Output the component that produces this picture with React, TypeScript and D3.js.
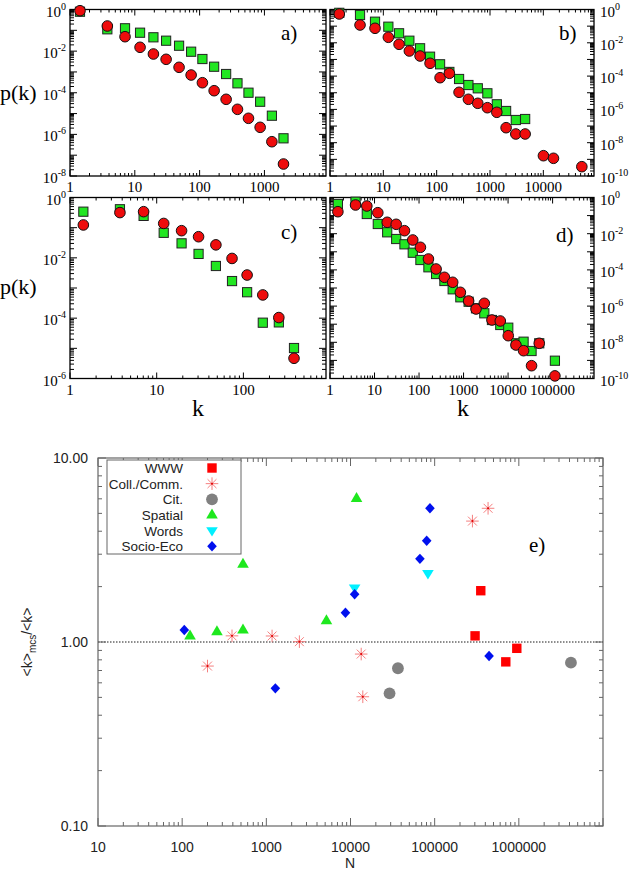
import React from 'react';
import * as d3 from 'd3';

// ---------- Data (top panels: log10 k and log10 p(k)) ----------
const logKA = [0.154, 0.576, 0.849, 1.081, 1.287, 1.483, 1.683, 1.869, 2.043, 2.224, 2.409, 2.584, 2.754, 2.934, 3.115, 3.294];
const logPA_sq = [-0.106, -0.951, -0.903, -1.115, -1.336, -1.499, -1.740, -2.028, -2.379, -2.749, -3.100, -3.546, -3.998, -4.431, -5.103, -6.189];
const logPA_ci = [-0.058, -0.793, -1.307, -1.816, -2.138, -2.393, -2.778, -3.148, -3.518, -3.902, -4.315, -4.796, -5.228, -5.661, -6.353, -7.424];

const logKB = [0.174, 0.563, 0.844, 1.094, 1.295, 1.488, 1.689, 1.876, 2.064, 2.238, 2.420, 2.595, 2.771, 2.951, 3.128, 3.302, 3.484, 3.659, 4.002, 4.190, 4.722];
const logPB_sq = [-0.20, -0.33, -0.733, -1.033, -1.429, -1.874, -2.330, -2.835, -3.291, -3.75, -4.174, -4.535, -4.733, -5.033, -5.694, -6.096, -6.637, -6.577];
const logPB_ci = [-0.270, -0.931, -1.129, -1.670, -2.090, -2.492, -2.793, -3.231, -4.096, -3.832, -4.973, -5.393, -5.634, -5.898, -6.174, -7.099, -7.477, -7.477, -8.781, -8.937, -9.441];

const logKC = [0.154, 0.576, 0.849, 1.081, 1.287, 1.483, 1.683, 1.869, 2.043, 2.224, 2.409, 2.584];
const logPC_sq = [-0.47, -0.39, -0.61, -1.17, -1.52, -1.87, -2.27, -2.77, -3.14, -4.15, -4.14, -4.99];
const logPC_ci = [-0.91, -0.50, -0.47, -0.86, -1.10, -1.30, -1.57, -2.02, -2.57, -3.23, -3.98, -5.33];

const logKD = [0.177, 0.574, 0.827, 1.074, 1.285, 1.487, 1.673, 1.859, 2.031, 2.211, 2.383, 2.570, 2.756, 2.928, 3.114, 3.280, 3.466, 3.638, 3.825, 4.004, 4.177, 4.348, 4.527, 4.700, 5.052];
const logPD_sq = [-0.359, -0.232, -0.912, -1.464, -1.923, -2.293, -2.586, -3.050, -3.453, -3.856, -4.227, -4.613, -5.072, -5.514, -5.757, -6.122, -6.398, -6.768, -7.044, -7.193, -8.055, -7.967, -8.481, -8.055, -9.017];
const logPD_ci = [-0.785, -0.414, -0.470, -0.840, -1.370, -1.481, -1.834, -2.348, -2.751, -3.398, -3.950, -4.409, -4.685, -5.238, -5.718, -6.160, -5.845, -6.768, -6.823, -7.635, -8.149, -8.464, -9.293, -8.055, -9.856];

// ---------- Data (panel e) ----------
const wwwN = [302000, 353000, 700000, 946000];
const wwwR = [1.08, 1.90, 0.78, 0.924];
const collN = [200, 391, 1170, 2470, 13400, 14000, 281000, 431000];
const collR = [0.74, 1.08, 1.078, 1.004, 0.86, 0.504, 4.54, 5.33];
const citN = [29100, 36600, 4160000];
const citR = [0.526, 0.72, 0.772];
const spatN = [124, 259, 528, 528, 5180, 11800];
const spatR = [1.078, 1.137, 1.162, 2.65, 1.305, 6.04];
const wordsN = [11200, 83200];
const wordsR = [1.97, 2.36];
const socioN = [106, 1280, 8710, 11200, 66800, 80400, 87900, 443000];
const socioR = [1.162, 0.56, 1.443, 1.816, 2.83, 3.55, 5.33, 0.839];

const legendLabels = ['WWW', 'Coll./Comm.', 'Cit.', 'Spatial', 'Words', 'Socio-Eco'];
const eXTickLabels = ['10', '100', '1000', '10000', '100000', '1000000'];
const eYTickLabels = ['10.00', '1.00', '0.10'];

const GREEN = '#22e622';
const RED = '#ee0c0c';
const SERIF = '"Liberation Serif", "DejaVu Serif", serif';
const SANS = '"Liberation Sans", Arial, sans-serif';

function logTicks(a: number, b: number) {
  const lo = Math.min(a, b), hi = Math.max(a, b);
  const majors: number[] = [], minors: number[] = [];
  for (let e = Math.floor(Math.log10(lo)) - 1; e <= Math.ceil(Math.log10(hi)); e++) {
    for (let j = 1; j < 10; j++) {
      const v = j * Math.pow(10, e);
      if (v >= lo * 0.99999 && v <= hi * 1.00001) (j === 1 ? majors : minors).push(v);
    }
  }
  return { majors, minors };
}

type PanelProps = {
  x0: number; x1: number; y0: number; y1: number;
  xMax: number; yMinExp: number;
  xLabels: number[]; yLabelSide: 'left' | 'right';
  logK: number[]; sq: number[]; ci: number[];
  tag: string;
  tagX: number; tagY: number;
};

function SupLabel({ x, y, exp, anchor }: { x: number; y: number; exp: number; anchor: string }) {
  return (
    <text x={x} y={y} textAnchor={anchor} fontFamily={SERIF} fontSize={15} fill="#000">
      10<tspan dy={-7} fontSize={10}>{String(exp)}</tspan>
    </text>
  );
}

function Panel(p: PanelProps) {
  const xs = d3.scaleLog().domain([1, p.xMax]).range([p.x0, p.x1]);
  const ys = d3.scaleLog().domain([1, Math.pow(10, p.yMinExp)]).range([p.y0, p.y1]);
  const xt = logTicks(1, p.xMax);
  const yt = logTicks(Math.pow(10, p.yMinExp), 1);
  const MJ = 6, MN = 3;
  const els: React.ReactNode[] = [];
  xt.majors.concat(xt.minors).forEach((v, i) => {
    const L = xt.majors.includes(v) ? MJ : MN;
    const x = xs(v);
    els.push(<line key={'xb' + i} x1={x} x2={x} y1={p.y1} y2={p.y1 - L} />);
    els.push(<line key={'xt' + i} x1={x} x2={x} y1={p.y0} y2={p.y0 + L} />);
  });
  yt.majors.concat(yt.minors).forEach((v, i) => {
    const L = yt.majors.includes(v) ? MJ + 1 : MN + 1;
    const y = ys(v);
    els.push(<line key={'yl' + i} x1={p.x0} x2={p.x0 + L} y1={y} y2={y} />);
    els.push(<line key={'yr' + i} x1={p.x1} x2={p.x1 - L} y1={y} y2={y} />);
  });
  const yLabs: React.ReactNode[] = [];
  for (let e = 0; e >= p.yMinExp; e -= 2) {
    const y = ys(Math.pow(10, e)) + 7;
    if (p.yLabelSide === 'left') yLabs.push(<SupLabel key={'yl' + e} x={p.x0 - 4} y={y} exp={e} anchor="end" />);
    else yLabs.push(<SupLabel key={'yr' + e} x={p.x1 + 6} y={y} exp={e} anchor="start" />);
  }
  return (
    <g>
      <g stroke="#000" strokeWidth={1}>{els}</g>
      <rect x={p.x0} y={p.y0} width={p.x1 - p.x0} height={p.y1 - p.y0} fill="none" stroke="#000" strokeWidth={1.3} />
      {p.xLabels.map((v) => (
        <text key={'xl' + v} x={xs(v)} y={p.y1 + 16} textAnchor="middle" fontFamily={SERIF} fontSize={15}>{String(v)}</text>
      ))}
      {yLabs}
      {p.sq.map((lp, i) => {
        const x = xs(Math.pow(10, p.logK[i]));
        const y = ys(Math.pow(10, lp));
        return <rect key={'s' + i} x={x - 4.6} y={y - 4.6} width={9.2} height={9.2} fill={GREEN} stroke="#222" strokeWidth={1} />;
      })}
      {p.ci.map((lp, i) => {
        const x = xs(Math.pow(10, p.logK[i]));
        const y = ys(Math.pow(10, lp));
        return <circle key={'c' + i} cx={x} cy={y} r={5.3} fill={RED} stroke="#111" strokeWidth={1} />;
      })}
      <text x={p.tagX} y={p.tagY} fontFamily={SERIF} fontSize={21}>{p.tag}</text>
    </g>
  );
}

// ---------- Panel e markers ----------
function Marker({ kind, x, y }: { kind: string; x: number; y: number }) {
  if (kind === 'www') return <rect x={x - 4.7} y={y - 4.7} width={9.4} height={9.4} fill="#ff0000" />;
  if (kind === 'coll') {
    const r = 6.3, d = r * Math.SQRT1_2;
    return (
      <g stroke="#f47070" strokeWidth={0.9}>
        <line x1={x - r} x2={x + r} y1={y} y2={y} />
        <line x1={x} x2={x} y1={y - r} y2={y + r} />
        <line x1={x - d} x2={x + d} y1={y - d} y2={y + d} />
        <line x1={x - d} x2={x + d} y1={y + d} y2={y - d} />
        <circle cx={x} cy={y} r={1} fill="#e00000" stroke="none" />
      </g>
    );
  }
  if (kind === 'cit') return <circle cx={x} cy={y} r={5.9} fill="#808080" />;
  if (kind === 'spat') return <path d={`M${x},${y - 6.4} L${x + 5.8},${y + 3.6} L${x - 5.8},${y + 3.6} Z`} fill="#1ee81e" />;
  if (kind === 'words') return <path d={`M${x},${y + 6} L${x + 5.8},${y - 3.4} L${x - 5.8},${y - 3.4} Z`} fill="#00f0ff" />;
  return <path d={`M${x},${y - 5.2} L${x + 4.8},${y} L${x},${y + 5.2} L${x - 4.8},${y} Z`} fill="#0010ee" />;
}

function PanelE() {
  const x0 = 98, x1 = 603, y0 = 458, y1 = 826;
  const xs = d3.scaleLog().domain([10, 1e7]).range([x0, x1]);
  const ys = d3.scaleLog().domain([0.1, 10]).range([y1, y0]);
  const xt = logTicks(10, 1e7);
  const yt = logTicks(0.1, 10);
  const ticks: React.ReactNode[] = [];
  xt.majors.concat(xt.minors).forEach((v, i) => {
    const L = xt.majors.includes(v) ? 8 : 4;
    const x = xs(v);
    ticks.push(<line key={'b' + i} x1={x} x2={x} y1={y1} y2={y1 - L} />);
    ticks.push(<line key={'t' + i} x1={x} x2={x} y1={y0} y2={y0 + L} />);
  });
  yt.majors.concat(yt.minors).forEach((v, i) => {
    const L = yt.majors.includes(v) ? 8 : 4;
    const y = ys(v);
    ticks.push(<line key={'l' + i} x1={x0} x2={x0 + L} y1={y} y2={y} />);
    ticks.push(<line key={'r' + i} x1={x1} x2={x1 - L} y1={y} y2={y} />);
  });
  const series: [string, number[], number[]][] = [
    ['www', wwwN, wwwR], ['coll', collN, collR], ['cit', citN, citR],
    ['spat', spatN, spatR], ['words', wordsN, wordsR], ['socio', socioN, socioR],
  ];
  const yTickVals = [10, 1, 0.1];
  const legY0 = 468, legStep = 15.65;
  return (
    <g>
      <line x1={x0} x2={x1} y1={ys(1)} y2={ys(1)} stroke="#000" strokeWidth={0.9} strokeDasharray="1.5,1.5" />
      <g stroke="#666" strokeWidth={1}>{ticks}</g>
      <rect x={x0} y={y0} width={x1 - x0} height={y1 - y0} fill="none" stroke="#666" strokeWidth={1.2} />
      {eYTickLabels.map((t, i) => (
        <text key={t} x={88} y={ys(yTickVals[i]) + 5} textAnchor="end" fontFamily={SANS} fontSize={14} fill="#222">{t}</text>
      ))}
      {eXTickLabels.map((t, i) => (
        <text key={t} x={xs(Math.pow(10, i + 1))} y={852} textAnchor="middle" fontFamily={SANS} fontSize={14} fill="#222">{t}</text>
      ))}
      <text x={350} y={868} textAnchor="middle" fontFamily={SANS} fontSize={14} fill="#222">N</text>
      <text transform="translate(32,642) rotate(-90)" textAnchor="middle" fontFamily={SANS} fontSize={14} fill="#222">
        &lt;k&gt;<tspan dy={4} fontSize={10}>mcs</tspan><tspan dy={-4}>/&lt;k&gt;</tspan>
      </text>
      {series.map(([kind, N, R]) =>
        N.map((n, i) => <Marker key={kind + i} kind={kind} x={xs(n)} y={ys(R[i])} />)
      )}
      <rect x={107} y={460} width={134} height={94} fill="#fff" stroke="#666" strokeWidth={1} />
      {legendLabels.map((lab, i) => {
        const y = legY0 + i * legStep;
        return (
          <g key={lab}>
            <text x={183} y={y + 5} textAnchor="end" fontFamily={SANS} fontSize={13.5} fill="#222">{lab}</text>
            <Marker kind={series[i][0]} x={212} y={y} />
          </g>
        );
      })}
      <text x={529} y={552} fontFamily={SERIF} fontSize={21}>e)</text>
    </g>
  );
}

export default function App() {
  return (
    <svg width={630} height={870} style={{ position: 'absolute', left: 0, top: 0, background: '#fff' }}>
      <rect x={0} y={0} width={630} height={870} fill="#fff" />
      <Panel x0={70} x1={326} y0={9.5} y1={176} xMax={Math.pow(10, 3.95)} yMinExp={-8}
        xLabels={[1, 10, 100, 1000]} yLabelSide="left" logK={logKA} sq={logPA_sq} ci={logPA_ci}
        tag="a)" tagX={281} tagY={40} />
      <Panel x0={330} x1={594} y0={9.5} y1={176} xMax={Math.pow(10, 4.95)} yMinExp={-10}
        xLabels={[1, 10, 100, 1000, 10000]} yLabelSide="right" logK={logKB} sq={logPB_sq} ci={logPB_ci}
        tag="b)" tagX={559} tagY={40} />
      <Panel x0={70} x1={326} y0={197.5} y1={378.5} xMax={Math.pow(10, 2.953)} yMinExp={-6}
        xLabels={[1, 10, 100]} yLabelSide="left" logK={logKC} sq={logPC_sq} ci={logPC_ci}
        tag="c)" tagX={281} tagY={239} />
      <Panel x0={330} x1={594} y0={197.5} y1={378.5} xMax={Math.pow(10, 5.93)} yMinExp={-10}
        xLabels={[1, 10, 100, 1000, 10000, 100000]} yLabelSide="right" logK={logKD} sq={logPD_sq} ci={logPD_ci}
        tag="d)" tagX={556} tagY={242} />
      <text x={0} y={100} fontFamily={SERIF} fontSize={22}>p(k)</text>
      <text x={0} y={294} fontFamily={SERIF} fontSize={22}>p(k)</text>
      <text x={198} y={416} textAnchor="middle" fontFamily={SERIF} fontSize={24}>k</text>
      <text x={463} y={416} textAnchor="middle" fontFamily={SERIF} fontSize={24}>k</text>
      <PanelE />
    </svg>
  );
}
